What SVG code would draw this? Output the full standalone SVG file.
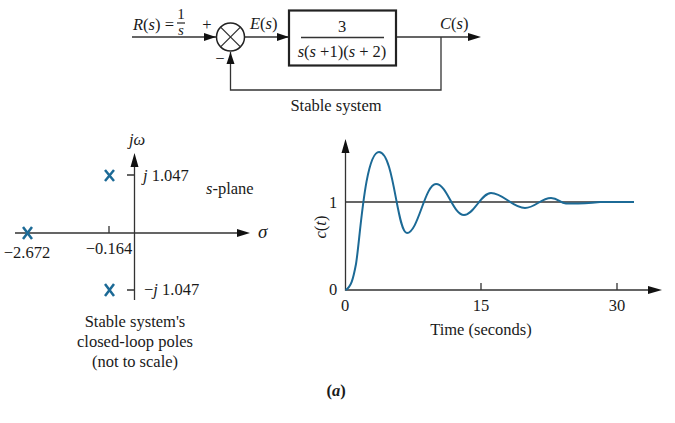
<svg xmlns="http://www.w3.org/2000/svg" width="675" height="423" viewBox="0 0 675 423">
<style>
text{font-family:"Liberation Serif","Times New Roman",serif;font-size:16.500px;fill:#1a1a1a}
.i{font-style:italic}
.m{text-anchor:middle}
.f{font-size:15px}
.l{fill:none;stroke:#333;stroke-width:1.3}
.h{fill:#111}
.x{fill:none;stroke:#1c6a96;stroke-width:2.500}
</style>
<rect width="675" height="423" fill="#fff"/>
<g id="connectors">
<path class="l" d="M132 37H216M245 37H289M397 37H468M441 37V90H230.500V52"/>
<path class="h" d="M216 37l-12-4v8zM289 37l-12-4v8zM481 37l-13-4v8zM230.500 52l-4 12h8z"/>
</g>
<g id="summing"><circle cx="230.500" cy="37" r="14" fill="#fff" stroke="#222" stroke-width="1.500"/><path class="l" d="M220.600 27.100l19.800 19.800M240.400 27.100l-19.800 19.800"/></g>
<g id="plant"><rect x="289" y="10.500" width="107" height="55" fill="#fff" stroke="#222" stroke-width="2.200"/><path class="l" d="M301 37.500H384"/>
<text x="342" y="32" class="m">3</text><text x="342" y="57" class="m"><tspan class="i">s</tspan>(<tspan class="i">s</tspan> +1)(<tspan class="i">s</tspan> + 2)</text></g>
<g id="labels">
<text x="133" y="30"><tspan class="i">R</tspan>(<tspan class="i">s</tspan>) =</text>
<text x="181" y="19" class="m f">1</text><path class="l" d="M177 23H185"/><text x="181" y="35" class="m i f">s</text>
<text x="207" y="30" class="m">+</text><text x="220" y="64" class="m">−</text>
<text x="250" y="29"><tspan class="i">E</tspan>(<tspan class="i">s</tspan>)</text>
<text x="440" y="29"><tspan class="i">C</tspan>(<tspan class="i">s</tspan>)</text>
<text x="336" y="111" class="m">Stable system</text>
</g>
<g id="s-plane">
<path class="l" d="M15 233H240M134.500 160V300M127 175H134.500M127 290H134.500M109 226V233"/>
<path class="h" d="M250 233l-13-4v8zM134.500 153l-4 14h8z"/>
<path class="x" d="M105 170l9 11M114 170l-9 11M105 284l9 12M114 284l-9 12M23 227l9 12M32 227l-9 12"/>
<text x="137" y="145" class="m i">jω</text>
<text x="143" y="181"><tspan class="i">j</tspan> 1.047</text>
<text x="206" y="194"><tspan class="i">s</tspan>-plane</text>
<text x="258" y="238" class="i" style="font-size:19px">σ</text>
<text x="27" y="258" class="m">−2.672</text>
<text x="109" y="254" class="m">−0.164</text>
<text x="144" y="295">−<tspan class="i">j</tspan> 1.047</text>
<text x="135" y="327" class="m">Stable system's</text>
<text x="135" y="347" class="m">closed-loop poles</text>
<text x="135" y="367" class="m">(not to scale)</text>
</g>
<g id="plot">
<path class="l" d="M345.500 145V290H652M345.500 202H634M481 283V290M617 283V290"/>
<path class="h" d="M345.500 139l-4 14h8zM662 290l-14-4v8z"/>
<path fill="none" stroke="#1c6a96" stroke-width="2" d="M345.500 290C351 287 353 280 356 264C360 240 365 152 379 152C394 152 397 233 407 233C418 233 425 184 436 184C447 184 453 215 464 215C474 215 481 193 491 193C503 193 513 208 525 208C535 208 541 198 551 198C558 198 560 203 566 203.500C580 204 590 203 600 202L634 202"/>
<text x="333" y="208" class="m">1</text><text x="333" y="295" class="m">0</text>
<text x="345" y="311" class="m">0</text><text x="481" y="311" class="m">15</text><text x="617" y="311" class="m">30</text>
<text x="481" y="335" class="m">Time (seconds)</text>
<text transform="translate(326 227) rotate(-90)" class="m"><tspan class="i">c</tspan>(<tspan class="i">t</tspan>)</text>
<text x="336" y="396" class="m" style="font-weight:bold">(<tspan class="i">a</tspan>)</text>
</g>
</svg>
